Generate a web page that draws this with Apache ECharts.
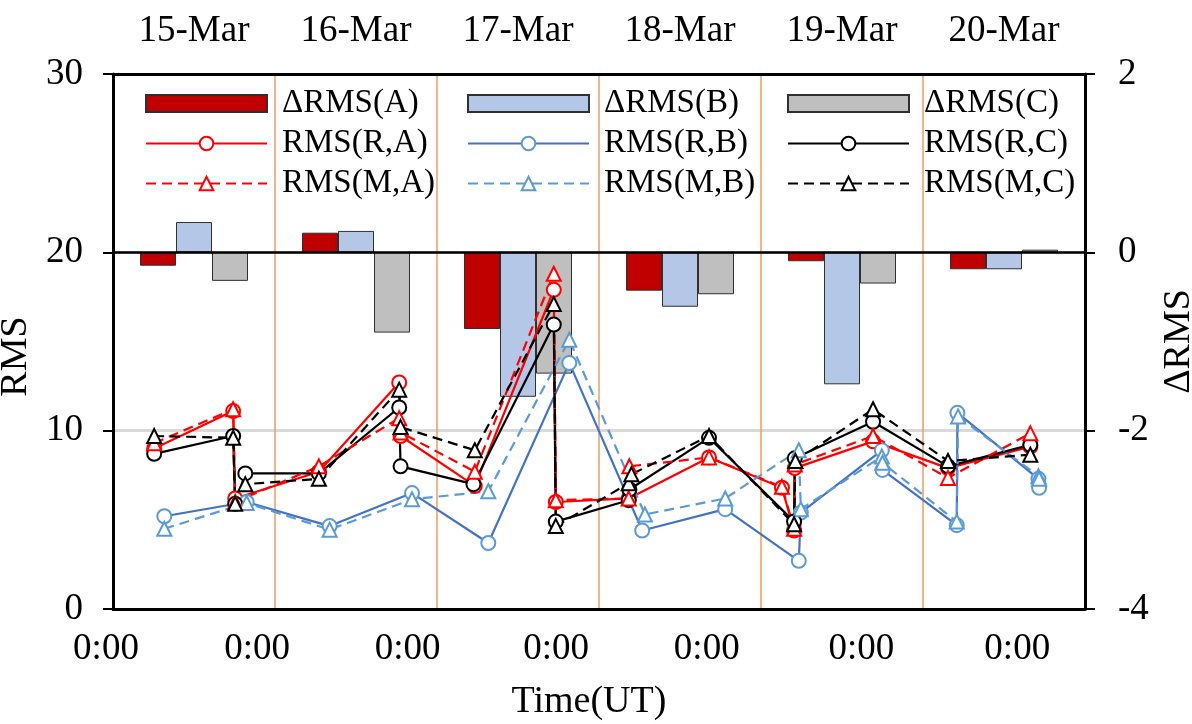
<!DOCTYPE html>
<html>
<head>
<meta charset="utf-8">
<script src="https://cdn.jsdelivr.net/npm/echarts@6/dist/echarts.min.js"></script>
<style>
  html, body { margin: 0; padding: 0; background: #fff; }
  #chart { width: 1192px; height: 724px; }
</style>
</head>
<body>
<div id="chart"></div>
<script>
// Day categories (bar groups) and daily RMS differences
const days = ['15-Mar', '16-Mar', '17-Mar', '18-Mar', '19-Mar', '20-Mar'];
const dRmsA = [-0.15, 0.22, -0.86, -0.43, -0.10, -0.19];
const dRmsB = [0.34, 0.24, -1.62, -0.61, -1.48, -0.19];
const dRmsC = [-0.32, -0.90, -1.36, -0.47, -0.35, 0.03];

// Time axis: hours since 15-Mar 0:00 UT
const timeLabelHours = [0, 22.4, 44.7, 66.7, 89.0, 111.9, 135.0];
const timeLabels = ['0:00', '0:00', '0:00', '0:00', '0:00', '0:00', '0:00'];

// RMS(R,A)
const tRA = [6.1, 17.8, 18.1, 30.5, 42.4, 42.6, 53.6, 65.3, 65.6, 76.4, 88.3, 99.1, 100.9, 101.0, 112.6, 123.7, 135.9];
const vRA = [9.0, 11.1, 6.2, 7.7, 12.7, 9.7, 6.9, 17.9, 6.0, 6.2, 8.5, 6.8, 4.4, 7.9, 9.4, 7.9, 9.1];
// RMS(M,A)
const tMA = [6.1, 17.8, 18.1, 30.5, 42.4, 42.6, 53.6, 65.3, 65.6, 76.4, 76.5, 88.3, 99.1, 100.9, 101.0, 112.6, 123.7, 135.9];
const vMA = [9.3, 11.2, 6.0, 8.0, 10.7, 9.9, 7.7, 18.8, 6.1, 6.2, 8.0, 8.5, 6.85, 4.5, 8.1, 9.7, 7.35, 9.85];
// RMS(R,B)
const tRB = [7.6, 19.8, 32.1, 44.3, 55.6, 67.6, 78.4, 90.7, 101.6, 101.9, 113.9, 114.0, 125.0, 125.1, 137.1, 137.2];
const vRB = [5.2, 6.0, 4.65, 6.5, 3.7, 13.8, 4.4, 5.6, 2.7, 5.4, 8.9, 7.8, 4.7, 11.0, 7.3, 6.8];
// RMS(M,B)
const tMB = [7.6, 19.8, 32.1, 44.3, 55.6, 67.6, 78.8, 90.7, 101.6, 101.9, 113.9, 114.0, 125.0, 125.2, 137.1, 137.2];
const vMB = [4.5, 5.95, 4.45, 6.15, 6.6, 15.1, 5.3, 6.2, 8.9, 5.6, 8.55, 8.2, 4.9, 10.8, 7.45, 7.3];
// RMS(R,C)
const tRC = [6.1, 17.8, 18.1, 19.6, 30.5, 42.4, 42.6, 53.4, 65.3, 65.6, 76.4, 76.5, 88.3, 100.9, 101.0, 112.6, 123.7, 135.9];
const vRC = [8.7, 9.7, 5.9, 7.6, 7.6, 11.3, 8.0, 7.0, 15.95, 4.9, 6.1, 6.7, 9.6, 4.9, 8.45, 10.5, 8.0, 9.2];
// RMS(M,C)
const tMC = [6.1, 17.8, 18.1, 19.6, 30.5, 42.4, 42.6, 53.6, 65.3, 65.6, 76.4, 76.8, 88.3, 100.9, 101.1, 112.6, 123.7, 135.9];
const vMC = [9.7, 9.6, 5.9, 7.0, 7.3, 12.3, 10.2, 8.9, 17.1, 4.65, 7.05, 7.55, 9.7, 4.75, 8.3, 11.2, 8.3, 8.65];

const FONT = '"Liberation Serif", "Times New Roman", serif';
const zip = (t, v) => t.map((x, i) => [x, v[i]]);

const txt = (size) => ({ fontFamily: FONT, fontSize: size, color: '#000' });

function barSeries(name, data, color, extra) {
  return Object.assign({
    name, type: 'bar', xAxisIndex: 1, yAxisIndex: 1, data,
    barWidth: 36, barGap: '0%',
    itemStyle: { color, borderColor: '#303030', borderWidth: 1 },
    z: 2
  }, extra || {});
}

function lineSeries(name, data, lineColor, markColor, symbol, dashed) {
  return {
    name, type: 'line', xAxisIndex: 0, yAxisIndex: 0, data,
    symbol, symbolSize: 14,
    lineStyle: { color: lineColor, width: 2.2, type: dashed ? [10, 6] : 'solid' },
    itemStyle: { color: markColor, borderWidth: 2 },
    z: 3
  };
}

function legendColumn(left, names) {
  return {
    orient: 'vertical', left, top: 87, padding: 0,
    itemWidth: 121, itemHeight: 17, itemGap: 7,
    selectedMode: false,
    textStyle: Object.assign(txt(33), { lineHeight: 33, padding: [0, 0, 0, 10] }),
    data: [{ name: names[0], icon: 'rect' }, names[1], names[2]]
  };
}

const chart = echarts.init(document.getElementById('chart'), null, { renderer: 'canvas' });
chart.setOption({
  animation: false,
  backgroundColor: '#fff',
  grid: { left: 113, right: 107, top: 74, bottom: 115, containLabel: false, outerBoundsMode: 'none' },
  legend: [
    legendColumn(145, ['ΔRMS(A)', 'RMS(R,A)', 'RMS(M,A)']),
    legendColumn(467, ['ΔRMS(B)', 'RMS(R,B)', 'RMS(M,B)']),
    legendColumn(787, ['ΔRMS(C)', 'RMS(R,C)', 'RMS(M,C)'])
  ],
  xAxis: [
    {
      type: 'value', min: 0, max: 144, interval: 24, position: 'bottom',
      name: 'Time(UT)', nameLocation: 'middle', nameGap: 74,
      nameTextStyle: Object.assign(txt(38), { padding: [0, 20, 0, 0] }),
      axisLine: { onZero: false, lineStyle: { color: '#000', width: 3 } },
      axisTick: { show: false },
      axisLabel: Object.assign(txt(37), {
        customValues: timeLabelHours,
        formatter: (v) => timeLabels[timeLabelHours.indexOf(v)] || '0:00',
        margin: 22, padding: [0, 14, 0, 0]
      }),
      splitLine: { show: true, lineStyle: { color: '#EE9B62', width: 1.5 } }
    },
    {
      type: 'category', data: days, position: 'top', boundaryGap: true,
      axisLine: { onZero: false, lineStyle: { color: '#000', width: 3 } },
      axisTick: { show: false },
      axisLabel: Object.assign(txt(37), { margin: 24, interval: 0 }),
      splitLine: { show: false }
    }
  ],
  yAxis: [
    {
      type: 'value', min: 0, max: 30, interval: 10, position: 'left',
      name: 'RMS', nameLocation: 'middle', nameGap: 48, nameRotate: 90,
      nameTextStyle: Object.assign(txt(38), { padding: [12, 30, 0, 0] }),
      axisLine: { show: true, onZero: false, lineStyle: { color: '#000', width: 3 } },
      axisTick: { show: true, inside: false, length: 10, lineStyle: { color: '#000', width: 2 } },
      axisLabel: Object.assign(txt(37), { margin: 30 }),
      splitLine: { show: true, lineStyle: { color: '#D9D9D9', width: 3 } }
    },
    {
      type: 'value', min: -4, max: 2, interval: 2, position: 'right',
      name: 'ΔRMS', nameLocation: 'middle', nameGap: 75, nameRotate: 90, nameTextStyle: txt(38),
      axisLine: { show: true, onZero: false, lineStyle: { color: '#000', width: 3 } },
      axisTick: { show: true, inside: false, length: 10, lineStyle: { color: '#000', width: 2 } },
      axisLabel: Object.assign(txt(37), { margin: 33 }),
      splitLine: { show: false }
    }
  ],
  series: [
    barSeries('ΔRMS(A)', dRmsA, '#C00000', {
      markLine: {
        silent: true, symbol: 'none', animation: false,
        label: { show: false },
        lineStyle: { color: '#000', width: 2.5, type: 'solid' },
        data: [{ yAxis: 0 }]
      }
    }),
    barSeries('ΔRMS(B)', dRmsB, '#B4C7E7'),
    barSeries('ΔRMS(C)', dRmsC, '#BFBFBF'),
    lineSeries('RMS(R,A)', zip(tRA, vRA), '#FF0000', '#FF0000', 'emptyCircle', false),
    lineSeries('RMS(R,B)', zip(tRB, vRB), '#4472C4', '#5B9BD5', 'emptyCircle', false),
    lineSeries('RMS(R,C)', zip(tRC, vRC), '#000000', '#000000', 'emptyCircle', false),
    lineSeries('RMS(M,A)', zip(tMA, vMA), '#FF0000', '#FF0000', 'emptyTriangle', true),
    lineSeries('RMS(M,B)', zip(tMB, vMB), '#5B9BD5', '#5B9BD5', 'emptyTriangle', true),
    lineSeries('RMS(M,C)', zip(tMC, vMC), '#000000', '#000000', 'emptyTriangle', true)
  ]
});
</script>
</body>
</html>
